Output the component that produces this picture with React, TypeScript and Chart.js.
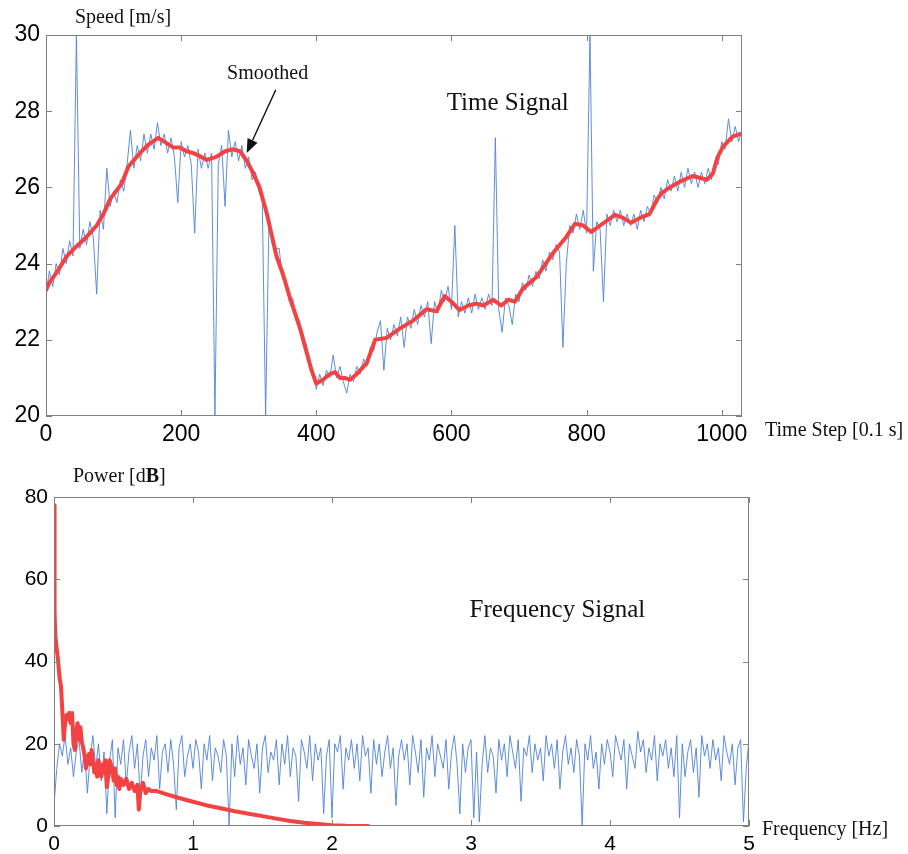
import React, { useEffect, useRef } from "react";
import { Chart, registerables } from "chart.js";

Chart.register(...registerables);

// ---------- Time signal (top) ----------
const timeStepSize = 5; // raw samples read every 5 time steps
const speedRaw = [
  23.2, 23.8, 23.4, 24.0, 23.7, 24.4, 24.0, 24.6, 24.2, 30.0, 24.4, 24.9, 24.5, 25.1, 24.7, 23.2, 25.4, 24.9, 26.5, 25.5,
  25.9, 25.6, 26.2, 25.9, 26.6, 27.5, 26.5, 27.1, 26.7, 27.4, 26.9, 27.4, 27.0, 27.7, 27.1, 27.4, 26.9, 27.3, 26.8, 25.6,
  27.2, 26.8, 27.1, 26.6, 24.8, 27.0, 26.5, 26.9, 26.5, 26.9, 20.0, 26.6, 27.1, 25.5, 27.5, 26.8, 27.2, 26.7, 27.1, 26.5,
  26.8, 26.2, 26.4, 25.9, 25.7, 20.0, 25.2, 24.5, 24.4, 24.4, 23.6, 23.6, 23.0, 23.1, 22.5, 22.5, 21.9, 21.9, 21.3, 21.2,
  20.7, 21.1, 20.8, 21.2, 21.0, 21.6, 21.0, 21.3, 20.9, 20.6, 21.1, 20.9, 21.3, 21.1, 21.5, 21.3, 21.8, 21.7, 22.2, 22.5,
  21.2, 22.3, 22.0, 22.4, 22.1, 22.6, 21.8, 22.6, 22.3, 22.8, 22.4, 22.9, 22.6, 23.0, 21.9, 23.0, 22.7, 23.3, 23.0, 23.4,
  22.8, 25.0, 22.6, 23.0, 22.7, 23.1, 22.7, 23.2, 22.8, 23.1, 22.8, 23.2, 22.9, 27.3, 22.8, 22.2, 23.1, 22.9, 22.4, 23.2,
  23.0, 23.5, 23.3, 23.7, 23.4, 23.8, 23.6, 24.1, 23.8, 24.3, 24.1, 24.5, 24.3, 21.8, 24.0, 25.0, 24.8, 25.3, 24.9, 25.4,
  24.8, 30.0, 23.8, 25.1, 24.9, 23.0, 25.3, 25.0, 25.4, 25.1, 25.4, 25.0, 25.3, 25.0, 25.3, 24.9, 25.4, 25.1, 25.5, 25.3,
  25.8, 25.6, 26.0, 25.7, 26.2, 25.9, 26.3, 25.9, 26.4, 26.0, 26.5, 26.1, 26.4, 26.0, 26.4, 26.1, 26.5, 26.2, 26.7, 26.6,
  27.2, 27.0, 27.8, 27.2, 27.6, 27.2, 27.5,
];

const smoothSteps = [
  0, 5, 15, 31, 45, 60, 75, 85, 95, 112, 122, 139, 150, 166, 175, 188, 198, 208, 218, 230, 238, 252, 265, 277, 287, 297,
  306, 316, 327, 341, 351, 361, 376, 393, 400, 410, 420, 428, 435, 442, 450, 460, 475, 487, 504, 524, 543, 563, 578, 590,
  600, 612, 625, 637, 647, 662, 674, 684, 694, 706, 726, 750, 770, 783, 795, 807, 820, 842, 854, 866, 879, 893, 904, 911,
  923, 938, 957, 978, 987, 994, 1002, 1016, 1030,
];
const smoothSpeed = [
  23.3, 23.5, 23.75, 24.2, 24.45, 24.7, 25.0, 25.3, 25.7, 26.1, 26.55, 26.9, 27.1, 27.3, 27.2, 27.05, 27.05, 26.95, 26.9,
  26.8, 26.72, 26.8, 26.95, 27.0, 26.95, 26.7, 26.4, 26.0, 25.3, 24.2, 23.7, 23.1, 22.3, 21.2, 20.85, 20.95, 21.1, 21.15,
  21.0, 21.0, 20.95, 21.1, 21.4, 22.0, 22.05, 22.3, 22.5, 22.8, 22.75, 23.15, 23.0, 22.78, 22.9, 22.95, 22.9, 23.05,
  22.9, 23.05, 23.0, 23.35, 23.65, 24.27, 24.7, 25.05, 25.0, 24.83, 25.0, 25.28, 25.2, 25.07, 25.2, 25.3, 25.67, 25.85,
  26.0, 26.15, 26.3, 26.2, 26.37, 26.8, 27.07, 27.33, 27.42,
];

const timeTicks = [0, 200, 400, 600, 800, 1000];
const speedTicks = [20, 22, 24, 26, 28, 30];

// ---------- Frequency signal (bottom) ----------
const freqStepSize = 0.02; // spectrum read every 0.02 Hz
const powerRaw = [
  5, 14, 20, 17, 22, 15, 19, 12, 18, 21, 13, 19, 8, 17, 22, 14, 20, 11, 18, 3, 16, 21, 2, 19, 15,
  21, 10, 18, 22, 14, 20, 7, 17, 21, 12, 19, 16, 22, 9, 18, 20, 13, 21, 15, 4, 19, 22, 12, 17, 20,
  14, 21, 18, 9, 20, 16, 22, 11, 19, 17, 13, 21, 17, 0, 20, 12, 22, 15, 19, 10, 21, 17, 14, 20, 8,
  19, 22, 13, 18, 16, 21, 10, 20, 15, 22, 12, 19, 17, 6, 21, 18, 14, 22, 11, 20, 16, 19, 3, 17, 21,
  2, 20, 18, 22, 9, 19, 16, 21, 14, 20, 11, 22, 17, 19, 8, 21, 15, 20, 12, 18, 22, 14, 19, 5, 17,
  21, 16, 20, 10, 22, 18, 13, 21, 7, 19, 16, 22, 12, 20, 17, 14, 21, 9, 18, 22, 15, 3, 20, 13, 19,
  21, 2, 18, 1, 15, 22, 13, 19, 17, 8, 21, 16, 20, 12, 22, 18, 14, 21, 6, 19, 17, 22, 13, 20, 16,
  19, 11, 22, 17, 20, 14, 21, 9, 18, 22, 15, 19, 13, 21, 17, 0, 20, 16, 22, 14, 18, 9, 20, 15, 21,
  18, 12, 22, 19, 16, 21, 9, 20, 17, 14, 23, 18, 21, 13, 19, 16, 22, 11, 20, 17, 21, 14, 19, 12, 22,
  2, 20, 12, 18, 21, 13, 19, 7, 22, 17, 20, 14, 21, 16, 19, 11, 22, 18, 15, 20, 10, 19, 21, 1, 14,
  21,
];

const smoothFreq = [
  0, 0.004, 0.01, 0.02, 0.03, 0.04, 0.05, 0.06, 0.07, 0.08, 0.09, 0.1, 0.11, 0.12, 0.13, 0.14, 0.15, 0.16, 0.17, 0.18,
  0.19, 0.2, 0.21, 0.22, 0.23, 0.24, 0.25, 0.26, 0.27, 0.28, 0.29, 0.3, 0.31, 0.32, 0.33, 0.34, 0.35, 0.36, 0.37, 0.38,
  0.39, 0.4, 0.41, 0.42, 0.43, 0.44, 0.45, 0.46, 0.47, 0.48, 0.5, 0.52, 0.54, 0.56, 0.58, 0.6, 0.61, 0.62, 0.64, 0.66,
  0.68, 0.7, 0.74, 0.8, 0.9, 1.0, 1.1, 1.2, 1.3, 1.4, 1.5, 1.6, 1.7, 1.8, 1.9, 2.0, 2.1, 2.26,
];
const smoothPower = [
  78, 52, 46, 43, 40, 36, 34, 28, 21, 25, 27, 26, 27.5, 25, 27.5, 20, 18.5, 23, 25, 21,
  24, 20.5, 19, 17, 14, 16, 17.5, 15, 18.5, 16, 13, 15, 12, 16, 13.5, 12, 15, 13, 16, 9.5,
  12, 16, 15, 13, 11, 14, 10, 12, 9, 11.5, 10, 11.5, 9, 10.5, 8.5, 10, 4, 8, 10.5, 8,
  9, 8.5, 8.5, 7.8, 6.8, 5.9, 5.0, 4.3, 3.6, 3.0, 2.4, 1.8, 1.2, 0.8, 0.5, 0.2, 0.05, 0,
];

const freqTicks = [0, 1, 2, 3, 4, 5];
const powerTicks = [0, 20, 40, 60, 80];

const SANS = '"Liberation Sans", Arial, Helvetica, sans-serif';
const SERIF = '"Liberation Serif", "Times New Roman", serif';
const RED = "rgb(243,66,66)";
const BLUE = "rgba(78,130,214,0.9)";

type TextItem = { text: string; x: number; y: number; size: number; align?: CanvasTextAlign; boldPart?: string; after?: string };

function makeFramePlugin(getTexts: (chart: any) => TextItem[], arrow?: { x1: number; y1: number; x2: number; y2: number }) {
  return {
    id: "frameAndText",
    afterDraw(chart: any) {
      const { ctx, chartArea: a, scales } = chart;
      const xs = scales.x;
      const ys = scales.y;
      ctx.save();
      ctx.strokeStyle = "#808080";
      ctx.lineWidth = 1;
      ctx.strokeRect(a.left + 0.5, a.top + 0.5, a.right - a.left - 1, a.bottom - a.top - 1);
      ctx.beginPath();
      const tl = 6;
      xs.ticks.forEach((t: any) => {
        const px = Math.round(xs.getPixelForValue(t.value)) + 0.5;
        ctx.moveTo(px, a.bottom);
        ctx.lineTo(px, a.bottom - tl);
        ctx.moveTo(px, a.top);
        ctx.lineTo(px, a.top + tl);
      });
      ys.ticks.forEach((t: any) => {
        const py = Math.round(ys.getPixelForValue(t.value)) + 0.5;
        ctx.moveTo(a.left, py);
        ctx.lineTo(a.left + tl, py);
        ctx.moveTo(a.right, py);
        ctx.lineTo(a.right - tl, py);
      });
      ctx.stroke();

      ctx.fillStyle = "#111";
      ctx.textBaseline = "middle";
      for (const it of getTexts(chart)) {
        ctx.textAlign = it.align || "left";
        ctx.font = `${it.size}px ${SERIF}`;
        ctx.fillText(it.text, it.x, it.y);
        if (it.boldPart) {
          let x = it.x + ctx.measureText(it.text).width;
          ctx.font = `bold ${it.size}px ${SERIF}`;
          ctx.fillText(it.boldPart, x, it.y);
          x += ctx.measureText(it.boldPart).width;
          ctx.font = `${it.size}px ${SERIF}`;
          if (it.after) ctx.fillText(it.after, x, it.y);
        }
      }

      if (arrow) {
        const x1 = xs.getPixelForValue(arrow.x1);
        const y1 = ys.getPixelForValue(arrow.y1);
        const x2 = xs.getPixelForValue(arrow.x2);
        const y2 = ys.getPixelForValue(arrow.y2);
        const ang = Math.atan2(y2 - y1, x2 - x1);
        const hl = 14;
        const hw = 5.5;
        const bx = x2 - hl * Math.cos(ang);
        const by = y2 - hl * Math.sin(ang);
        ctx.strokeStyle = "#111";
        ctx.lineWidth = 1.3;
        ctx.beginPath();
        ctx.moveTo(x1, y1);
        ctx.lineTo(bx, by);
        ctx.stroke();
        ctx.fillStyle = "#111";
        ctx.beginPath();
        ctx.moveTo(x2, y2);
        ctx.lineTo(bx + hw * Math.sin(ang), by - hw * Math.cos(ang));
        ctx.lineTo(bx - hw * Math.sin(ang), by + hw * Math.cos(ang));
        ctx.closePath();
        ctx.fill();
      }
      ctx.restore();
    },
  };
}

function axisCommon(min: number, max: number, tickVals: number[], size: number, pad: number, fit: (s: any) => void) {
  return {
    type: "linear" as const,
    min,
    max,
    grid: { display: false, drawTicks: false },
    border: { display: false },
    afterBuildTicks: (s: any) => {
      s.ticks = tickVals.map((v) => ({ value: v }));
    },
    ticks: {
      color: "#000",
      padding: pad,
      maxRotation: 0,
      autoSkip: false,
      font: { family: SANS, size },
      callback: (v: any) => String(v),
    },
    afterFit: fit,
  };
}

export default function App() {
  const topRef = useRef<HTMLCanvasElement>(null);
  const botRef = useRef<HTMLCanvasElement>(null);

  useEffect(() => {
    const rawPts = speedRaw.map((v, i) => ({ x: i * timeStepSize, y: v }));
    const smoothPts = smoothSteps.map((t, i) => ({ x: t, y: smoothSpeed[i] }));

    const topChart = new Chart(topRef.current as HTMLCanvasElement, {
      type: "line",
      data: {
        datasets: [
          { data: smoothPts, borderColor: RED, borderWidth: 4, pointRadius: 0, tension: 0, borderJoinStyle: "round", borderCapStyle: "round" },
          { data: rawPts, borderColor: BLUE, borderWidth: 1, pointRadius: 0, tension: 0 },
        ],
      },
      options: {
        responsive: false,
        animation: false,
        events: [],
        layout: { padding: { left: 0, top: 35, right: 166, bottom: 0 } },
        plugins: { legend: { display: false }, tooltip: { enabled: false } },
        scales: {
          x: axisCommon(0, 1030, timeTicks, 23, 5, (s: any) => { s.height = 39; }),
          y: axisCommon(20, 30, speedTicks, 23, 6, (s: any) => { s.width = 46; }),
        },
      } as any,
      plugins: [
        makeFramePlugin(
          (c: any) => {
            const a = c.chartArea;
            const xs = c.scales.x;
            const ys = c.scales.y;
            return [
              { text: "Speed [m/s]", x: a.left + 29, y: a.top - 17, size: 20 },
              { text: "Time Step [0.1 s]", x: a.right + 23, y: a.bottom + 15, size: 20 },
              { text: "Smoothed", x: xs.getPixelForValue(328), y: ys.getPixelForValue(28.98), size: 20, align: "center" },
              { text: "Time Signal", x: xs.getPixelForValue(593), y: ys.getPixelForValue(28.2), size: 25 },
            ];
          },
          { x1: 340, y1: 28.56, x2: 297, y2: 26.9 }
        ),
      ],
    });

    const powPts = powerRaw.map((v, i) => ({ x: Math.round(i * freqStepSize * 100) / 100, y: v }));
    const smoothPowPts = smoothFreq.map((f, i) => ({ x: f, y: smoothPower[i] }));

    const botChart = new Chart(botRef.current as HTMLCanvasElement, {
      type: "line",
      data: {
        datasets: [
          { data: smoothPowPts, borderColor: RED, borderWidth: 4, pointRadius: 0, tension: 0, borderJoinStyle: "round", borderCapStyle: "round" },
          { data: powPts, borderColor: BLUE, borderWidth: 1, pointRadius: 0, tension: 0 },
        ],
      },
      options: {
        responsive: false,
        animation: false,
        events: [],
        layout: { padding: { left: 0, top: 42, right: 159, bottom: 0 } },
        plugins: { legend: { display: false }, tooltip: { enabled: false } },
        scales: {
          x: axisCommon(0, 5, freqTicks, 21, 6, (s: any) => { s.height = 28; }),
          y: axisCommon(0, 80, powerTicks, 21, 6, (s: any) => { s.width = 54; }),
        },
      } as any,
      plugins: [
        makeFramePlugin((c: any) => {
          const a = c.chartArea;
          const xs = c.scales.x;
          const ys = c.scales.y;
          return [
            { text: "Power [d", boldPart: "B", after: "]", x: a.left + 19, y: a.top - 20, size: 20 },
            { text: "Frequency [Hz]", x: a.right + 13, y: a.bottom + 4, size: 20 },
            { text: "Frequency Signal", x: xs.getPixelForValue(2.99), y: ys.getPixelForValue(52.5), size: 25 },
          ];
        }),
      ],
    });

    return () => {
      topChart.destroy();
      botChart.destroy();
    };
  }, []);

  return (
    <div style={{ position: "absolute", left: 0, top: 0, width: 908, height: 854, background: "#fff", overflow: "hidden" }}>
      <canvas ref={topRef} width={908} height={455} style={{ position: "absolute", left: 0, top: 0, width: 908, height: 455 }} />
      <canvas ref={botRef} width={908} height={399} style={{ position: "absolute", left: 0, top: 455, width: 908, height: 399 }} />
    </div>
  );
}
